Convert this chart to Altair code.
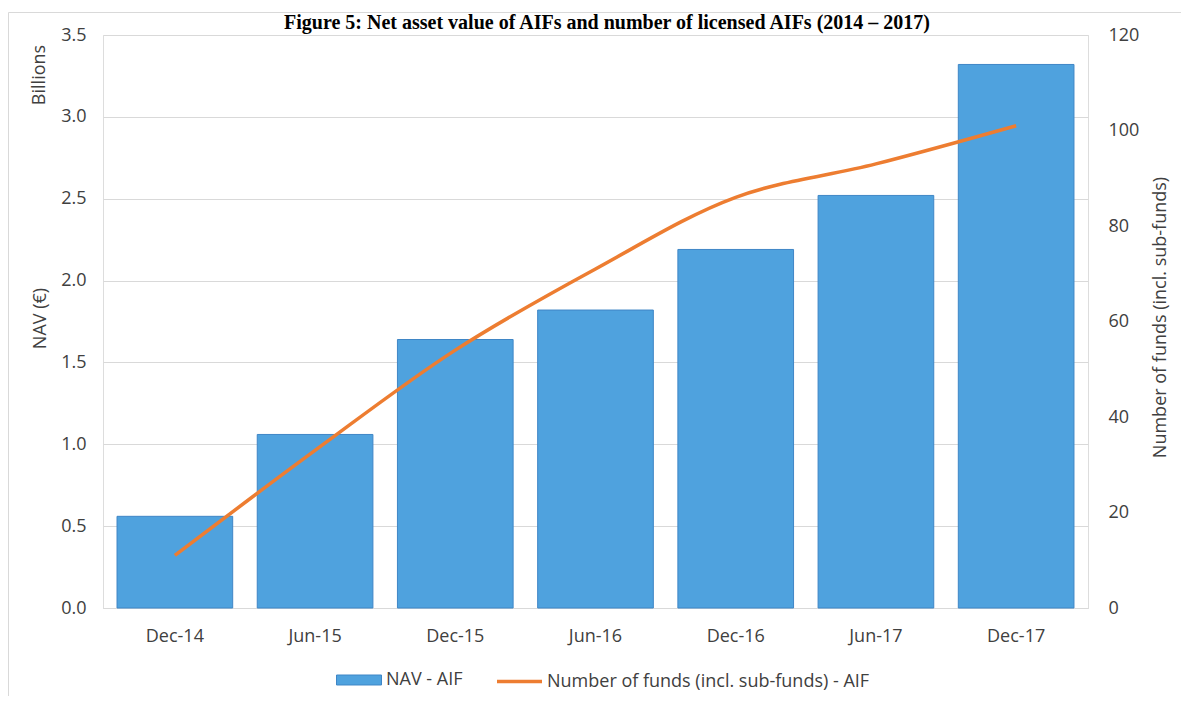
import altair as alt
import pandas as pd

periods = ["Dec-14", "Jun-15", "Dec-15", "Jun-16", "Dec-16", "Jun-17", "Dec-17"]
nav_billions = [0.56, 1.06, 1.64, 1.82, 2.19, 2.52, 3.32]
num_funds = [11, 33, 54, 71, 86, 93, 101]
nav_ticks = [0.0, 0.5, 1.0, 1.5, 2.0, 2.5, 3.0, 3.5]
fund_ticks = [0, 20, 40, 60, 80, 100, 120]

title_text = "Figure 5: Net asset value of AIFs and number of licensed AIFs (2014 \u2013 2017)"
bar_series = "NAV - AIF"
line_series = "Number of funds (incl. sub-funds) - AIF"

BLUE = "#4FA2DE"
BLUE_EDGE = "#3F86C6"
ORANGE = "#ED7D31"
GREY_TEXT = "#404040"
GRID = "#D9D9D9"
FONT = "Open Sans"
FS = 18

df = pd.DataFrame({
    "period": periods,
    "nav": nav_billions,
    "funds": num_funds,
    "bar_s": [bar_series] * len(periods),
    "line_s": [line_series] * len(periods),
})

x_enc = alt.X(
    "period:N", sort=periods, title=None,
    scale=alt.Scale(paddingInner=0.175, paddingOuter=0.1),
    axis=alt.Axis(labelFont=FONT, labelFontSize=FS, labelColor=GREY_TEXT, labelAngle=0,
                  labelPadding=19, ticks=False, domainColor=GRID, grid=False),
)

bars = alt.Chart(df).mark_bar(stroke=BLUE_EDGE, strokeWidth=1).encode(
    x=x_enc,
    y=alt.Y("nav:Q", scale=alt.Scale(domain=[0, 3.5], nice=False),
            axis=alt.Axis(values=nav_ticks, format=".1f", title="NAV (\u20ac)", orient="left",
                          labelFont=FONT, labelFontSize=FS, labelColor=GREY_TEXT, labelPadding=17,
                          ticks=False, domain=False, grid=True, gridColor=GRID,
                          titleFont=FONT, titleFontSize=FS, titleFontWeight="normal",
                          titleColor=GREY_TEXT, titleX=-63, titleY=283, titleAngle=270,
                          titleBaseline="middle", titleAlign="center")),
    fill=alt.Fill("bar_s:N", scale=alt.Scale(domain=[bar_series], range=[BLUE]),
                  legend=alt.Legend(title=None, orient="none", legendX=233, legendY=622,
                                    direction="horizontal", symbolType="M-1,-0.222H1V0.222H-1Z",
                                    symbolSize=2025, symbolStrokeColor=BLUE_EDGE, symbolStrokeWidth=1,
                                    labelFont=FONT, labelFontSize=FS, labelColor=GREY_TEXT,
                                    labelOffset=4, labelLimit=600, padding=0)),
)

line = alt.Chart(df).mark_line(strokeWidth=3.5, interpolate="catmull-rom").encode(
    x=alt.X("period:N", sort=periods),
    y=alt.Y("funds:Q", scale=alt.Scale(domain=[0, 120], nice=False),
            axis=alt.Axis(values=fund_ticks, title="Number of funds (incl. sub-funds)", orient="right",
                          labelFont=FONT, labelFontSize=FS, labelColor=GREY_TEXT, labelPadding=20,
                          ticks=False, domain=False, grid=False,
                          titleFont=FONT, titleFontSize=FS, titleFontWeight="normal",
                          titleColor=GREY_TEXT, titleX=72, titleY=282, titleAngle=270,
                          titleBaseline="middle", titleAlign="center")),
    stroke=alt.Stroke("line_s:N", scale=alt.Scale(domain=[line_series], range=[ORANGE]),
                      legend=alt.Legend(title=None, orient="none", legendX=392, legendY=622,
                                        direction="horizontal", symbolType="stroke",
                                        symbolSize=2025, symbolStrokeWidth=3.5,
                                        labelFont=FONT, labelFontSize=FS, labelColor=GREY_TEXT,
                                        labelOffset=3, labelLimit=600, padding=0)),
)

note_df = pd.DataFrame({"t": ["Billions"]})
billions = alt.Chart(note_df).mark_text(
    font=FONT, fontSize=FS, color=GREY_TEXT, angle=270, align="center", baseline="middle"
).encode(x=alt.value(-63), y=alt.value(40), text="t:N")

title_df = pd.DataFrame({"t": [title_text]})
title = alt.Chart(title_df).mark_text(
    font="Liberation Serif", fontSize=20, fontWeight="bold", color="#000000",
    align="center", baseline="alphabetic"
).encode(x=alt.value(504), y=alt.value(-6), text="t:N")

frame_df = pd.DataFrame({"k": [0]})
frame = alt.Chart(frame_df).mark_rect(filled=False, stroke=GRID, strokeWidth=1).encode(
    x=alt.value(-94.5), x2=alt.value(1200), y=alt.value(-22.5), y2=alt.value(720)
)

chart = alt.layer(frame, bars, line, billions, title).resolve_scale(
    y="independent", fill="independent", stroke="independent"
).properties(
    width=985, height=573,
    autosize=alt.AutoSizeParams(type="none"),
    padding={"left": 95, "top": 27, "right": 93, "bottom": 88},
).configure_view(stroke=GRID, strokeWidth=1).configure(background="white")

chart.save("out.html", embed_options={"renderer": "svg", "actions": False})
